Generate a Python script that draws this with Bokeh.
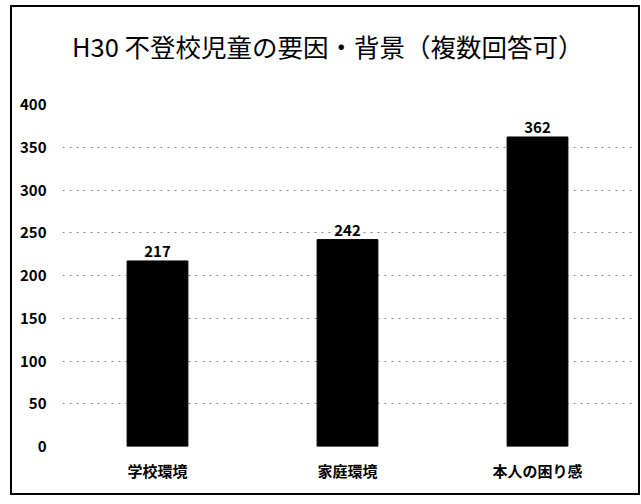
from bokeh.plotting import figure
from bokeh.models import ColumnDataSource, LabelSet, FixedTicker, Range1d, Div
from bokeh.layouts import column
from bokeh.core.properties import value
from bokeh.embed import file_html
from bokeh.resources import INLINE

categories = ["学校環境", "家庭環境", "本人の困り感"]
values = [217, 242, 362]
y_ticks = [0, 50, 100, 150, 200, 250, 300, 350, 400]
title_text = "H30 不登校児童の要因・背景（複数回答可）"

FONT = "Noto Sans CJK JP"

src = ColumnDataSource(dict(cat=categories, val=values, lab=[str(v) for v in values]))

title_div = Div(
    text=('<div style="position:absolute; left:60px; top:24px; white-space:nowrap; '
          'font-family:\'%s\'; font-size:25.5px; line-height:30px; color:#000000;">%s</div>'
          % (FONT, title_text)),
    width=626, height=62, margin=0)

p = figure(x_range=categories, y_range=Range1d(0, 400), width=626, height=424,
           output_backend="svg", toolbar_location=None, margin=0,
           min_border_left=50, min_border_right=6, min_border_top=35, min_border_bottom=47)
p.outline_line_color = None
p.background_fill_color = "white"

p.vbar(x="cat", top="val", width=0.32, source=src, fill_color="black", line_color="black")

labels = LabelSet(x="cat", y="val", text="lab", source=src, text_align="center",
                  text_baseline="bottom", y_offset=4, text_font=value(FONT),
                  text_font_size="15px", text_font_style="bold", text_color="black")
p.add_layout(labels)

p.yaxis.ticker = FixedTicker(ticks=y_ticks)
p.yaxis.axis_line_color = None
p.yaxis.major_tick_line_color = None
p.yaxis.minor_tick_line_color = None
p.yaxis.major_label_text_font = FONT
p.yaxis.major_label_text_font_size = "15px"
p.yaxis.major_label_text_font_style = "bold"
p.yaxis.major_label_text_color = "black"
p.yaxis.major_label_standoff = 10

p.xaxis.axis_line_color = None
p.xaxis.major_tick_line_color = None
p.xaxis.major_label_text_font = FONT
p.xaxis.major_label_text_font_size = "15px"
p.xaxis.major_label_text_font_style = "bold"
p.xaxis.major_label_text_color = "black"
p.xaxis.major_label_standoff = 7

p.xgrid.grid_line_color = None
p.ygrid.grid_line_color = "#888888"
p.ygrid.grid_line_dash = "2 5"
p.ygrid.grid_line_width = 1

p.x_range.range_padding = 0.0

layout = column(title_div, p, spacing=0, margin=0)
layout.styles = {"border": "2px solid #000000", "margin-left": "10px", "margin-top": "5px",
                 "background-color": "white"}

open("out.html", "w").write(file_html(layout, INLINE))
